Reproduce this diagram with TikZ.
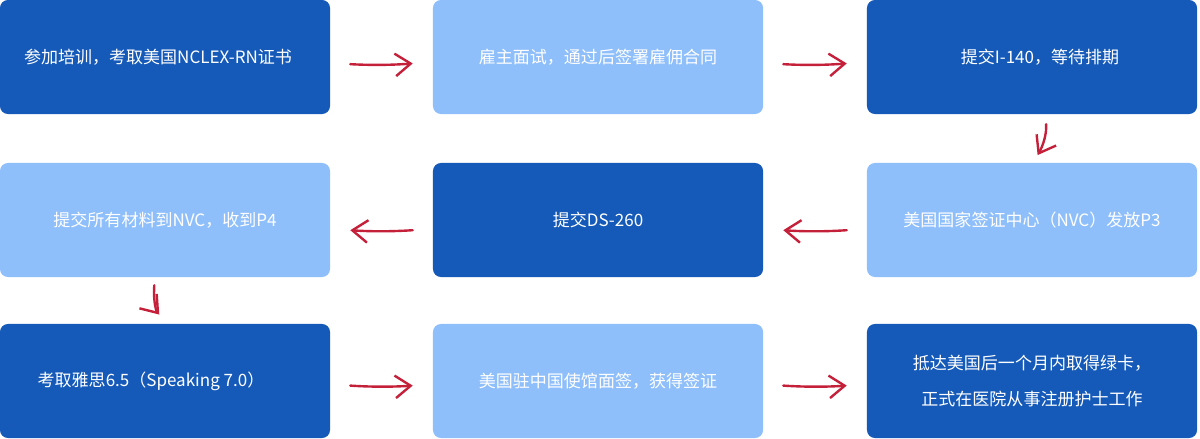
\documentclass[tikz,border=0pt]{standalone}
\usepackage{fontspec}
\newfontfamily\cjk{Noto Sans CJK SC}
\usepackage{xcolor}
\usepackage{tikz}
\usetikzlibrary{arrows.meta}

\definecolor{darkstep}{RGB}{21,90,185}
\definecolor{lightstep}{RGB}{143,191,251}
\definecolor{penred}{RGB}{196,32,58}

\begin{document}
\begin{tikzpicture}[x=0.025cm, y=-0.025cm,
	stepbox/.style={rounded corners=0.2cm, minimum width=8.25cm, minimum height=2.85cm, inner sep=0pt, text=white, align=center, font=\cjk\fontsize{12.1}{25.5}\selectfont},
	darkbox/.style={stepbox, fill=darkstep},
	lightbox/.style={stepbox, fill=lightstep},
	pen/.style={penred, line width=1.7pt, line cap=round, -{Straight Barb[length=11pt,width=16pt,line width=1.7pt]}},
	hpen/.style={pen, shorten <=0.5cm, shorten >=0.5cm}]

	\useasboundingbox (0,0) rectangle (1200,439);

	\node[darkbox]  (train)  at (165,57)   {参加培训，考取美国NCLEX-RN证书\hspace{0.35cm}};
	\node[lightbox] (interview) at (598,57) {雇主面试，通过后签署雇佣合同};
	\node[darkbox]  (i140)   at (1032,57)  {\hspace{0.4cm}提交I-140，等待排期};

	\node[lightbox] (nvcdocs) at (165,220)  {提交所有材料到NVC，收到P4};
	\node[darkbox]  (ds260)   at (598,220)  {提交DS-260};
	\node[lightbox] (nvc)     at (1032,220) {美国国家签证中心（NVC）发放P3};

	\node[darkbox]  (ielts)  at (165,381)  {考取雅思6.5（Speaking 7.0）\hspace{0.7cm}};
	\node[lightbox] (visa)   at (598,381)  {美国驻中国使馆面签，获得签证};
	\node[darkbox]  (arrive) at (1032,381) {抵达美国后一个月内取得绿卡，\\正式在医院从事注册护士工作};


	\draw[hpen] ([yshift=-0.15cm]train.east) to[bend right=4] ([yshift=-0.12cm]interview.west);
	\draw[hpen] ([yshift=-0.15cm]interview.east) to[bend right=4] ([yshift=-0.12cm]i140.west);
	\draw[pen, shorten <=0.25cm, shorten >=0.22cm] ([xshift=0.33cm]i140.south) to[out=-85,in=60] ([xshift=0.03cm]nvc.north);
	\draw[hpen] ([yshift=-0.22cm]nvc.west) to[bend left=4] ([yshift=-0.22cm]ds260.east);
	\draw[hpen] ([yshift=-0.22cm]ds260.west) to[bend left=4] ([yshift=-0.22cm]nvcdocs.east);
	\draw[pen, shorten <=0.2cm, shorten >=0.3cm] ([xshift=-0.25cm]nvcdocs.south) to[out=-95,in=130] ([xshift=0.05cm]ielts.north);
	\draw[hpen] ([yshift=-0.08cm]ielts.east) to[bend right=4] ([yshift=-0.08cm]visa.west);
	\draw[hpen] ([yshift=-0.08cm]visa.east) to[bend right=4] ([yshift=-0.08cm]arrive.west);


\end{tikzpicture}
\end{document}
